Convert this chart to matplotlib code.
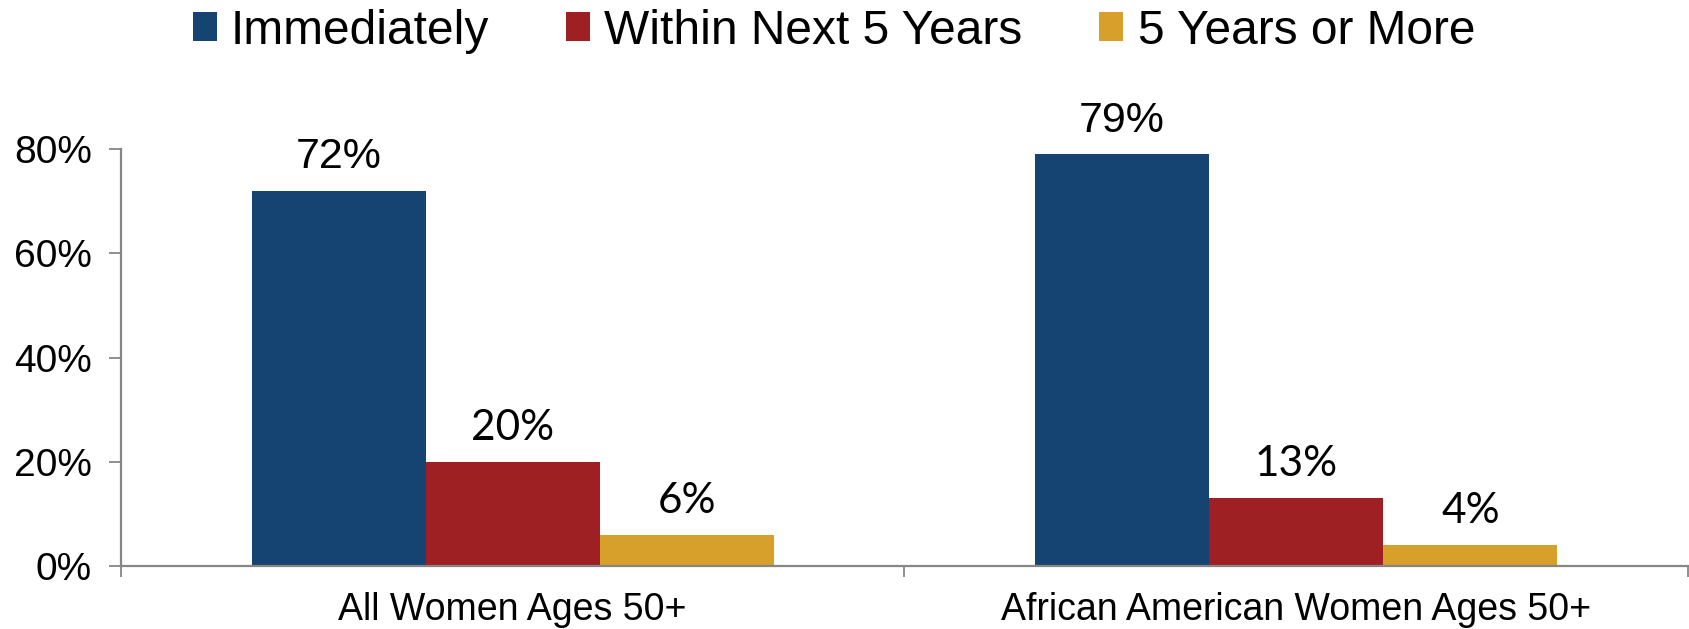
import matplotlib
matplotlib.use("Agg")
import matplotlib.pyplot as plt
from matplotlib.patches import Patch
import numpy as np

categories = ["All Women Ages 50+", "African American Women Ages 50+"]
series_names = ["Immediately", "Within Next 5 Years", "5 Years or More"]
immediately = [72, 79]
within5 = [20, 13]
five_plus = [6, 4]
yticks = [0, 20, 40, 60, 80]
ytick_labels = ["0%", "20%", "40%", "60%", "80%"]

colors = ["#154372", "#9E2023", "#D6A02A"]
label_fonts = ["Liberation Sans", "Lato", "Lato"]
label_sizes = [31, 30.5, 30.5]

fig = plt.figure(figsize=(16.9, 6.29), dpi=100)
ax = fig.add_axes([121/1690, 1-566/629, (1688-121)/1690, (566-149)/629])

x = np.arange(len(categories))
w = 2/9
series = [immediately, within5, five_plus]
for i, (vals, c, fnt, fs) in enumerate(zip(series, colors, label_fonts, label_sizes)):
    bars = ax.bar(x + (i-1)*w, vals, width=w, color=c, edgecolor="none")
    for b, v in zip(bars, vals):
        ax.annotate(f"{v}%", (b.get_x()+b.get_width()/2, v), xytext=(0, 16),
                    textcoords="offset points", ha="center", va="baseline",
                    fontsize=fs, family=fnt, color="black")

ax.set_xlim(-0.5, 1.5)
ax.set_ylim(0, 80)
ax.set_yticks(yticks)
ax.set_yticklabels(ytick_labels, family="Liberation Sans", fontsize=28)
ax.set_xticks([-0.5, 0.5, 1.5])
ax.set_xticklabels([])
ax.set_xticks(x, minor=True)
ax.set_xticklabels(categories, minor=True, family="Liberation Sans", fontsize=27)
ax.tick_params(axis="x", which="minor", length=0, pad=19)
ax.tick_params(axis="x", which="major", length=8, width=1.3, color="#868686", direction="out")
ax.tick_params(axis="y", length=9, width=1.3, color="#868686", direction="out", pad=12)
for s in ["top", "right"]:
    ax.spines[s].set_visible(False)
for s in ["left", "bottom"]:
    ax.spines[s].set_color("#868686")
    ax.spines[s].set_linewidth(1.6)

handles = [Patch(facecolor=c, edgecolor="none") for c in colors]
fig.legend(handles, series_names, loc="center", bbox_to_anchor=(0.4935, 1-31/629),
           ncol=3, frameon=False, prop={"family": "Liberation Sans", "size": 34.5},
           handlelength=0.5, handleheight=0.55, handletextpad=0.3, columnspacing=1.6,
           borderpad=0, borderaxespad=0)

fig.savefig("out.png", dpi=100)
